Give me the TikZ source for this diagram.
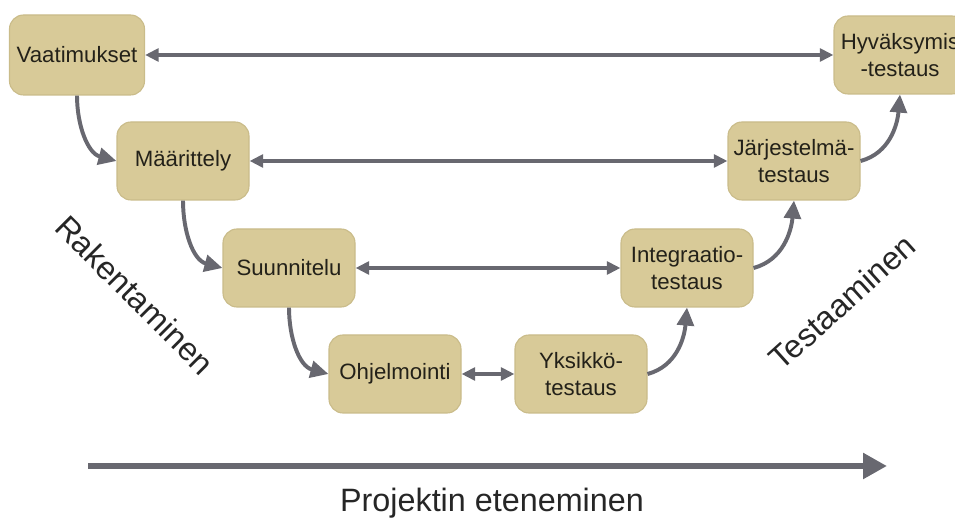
\documentclass[tikz,border=0pt]{standalone}
\usepackage{fontspec}
\setmainfont{Liberation Sans}
\usepackage{tikz}
\usetikzlibrary{positioning,calc,arrows.meta}
\definecolor{vtan}{RGB}{216,202,152}
\definecolor{vedge}{RGB}{202,188,138}
\definecolor{vgray}{RGB}{104,104,112}
\definecolor{vtext}{RGB}{35,33,25}

\begin{document}
\begin{tikzpicture}[
	phase/.style={
		draw=vedge, fill=vtan, text=vtext, line width=0.8pt,
		minimum width=3.3cm, minimum height=1.95cm,
		rounded corners=10pt, align=center,
		font=\fontsize{15.8}{19.2}\selectfont,
		anchor=center
	},
	link/.style={
		draw=vgray, line width=2.4pt,
		{Triangle[length=0.34cm,width=0.32cm]}-{Triangle[length=0.34cm,width=0.32cm]}
	},
	flow/.style={
		draw=vgray, line width=2.8pt,
		-{Triangle[length=0.45cm,width=0.42cm]}
	},
	biglabel/.style={
		text=black!85, font=\fontsize{23}{27}\selectfont
	}
	]
	\useasboundingbox (0,0) rectangle (23.875,13);
	
	% vasen haara
	\node[phase, minimum width=3.375cm, minimum height=2cm] (vaat) at (1.925, 11.625) {Vaatimukset};
	\node[phase] (maar) at (4.575, 8.975) {Määrittely};
	\node[phase] (suun) at (7.225, 6.3)   {Suunnitelu};
	\node[phase] (ohje) at (9.875, 3.65)  {Ohjelmointi};
	
	% oikea haara
	\node[phase] (yksi) at (14.525, 3.65) {Yksikkö-\\testaus};
	\node[phase] (inte) at (17.175, 6.3)  {Integraatio-\\testaus};
	\node[phase] (jarj) at (19.85, 8.975) {Järjestelmä-\\testaus};
	\node[phase] (hyva) at (22.5, 11.625) {Hyväksymis\\-testaus};
	
	% vaakasuorat yhteydet
	\draw[link] (vaat.east) -- (hyva.west);
	\draw[link] (maar.east) -- (jarj.west);
	\draw[link] (suun.east) -- (inte.west);
	\draw[link] (ohje.east) -- (yksi.west);
	
	% kaarevat nuolet
	\draw[flow] (vaat.south) to[out=-90, in=165] (maar.west);
	\draw[flow] (maar.south) to[out=-90, in=165] (suun.west);
	\draw[flow] (suun.south) to[out=-90, in=165] (ohje.west);
	\draw[flow] (yksi.east) to[out=15, in=-95] (inte.south);
	\draw[flow] (inte.east) to[out=15, in=-95] (jarj.south);
	\draw[flow] (jarj.east) to[out=15, in=-95] (hyva.south);
	
	% tekstit ja aikajana
	\node[biglabel, rotate=-45] (rak) at (3.375, 5.625) {Rakentaminen};
	\node[biglabel, rotate=42]  (tes) at (21.05, 5.45)  {Testaaminen};
	\coordinate (alku) at (2.2, 1.35);
	\coordinate (loppu) at (22.175, 1.35);
	\draw[draw=vgray, line width=4.3pt, -{Triangle[length=0.6cm,width=0.62cm]}] (alku) -- (loppu);
	\node[biglabel, anchor=base] (proj) at (12.3, 0.2) {Projektin eteneminen};
\end{tikzpicture}
\end{document}
